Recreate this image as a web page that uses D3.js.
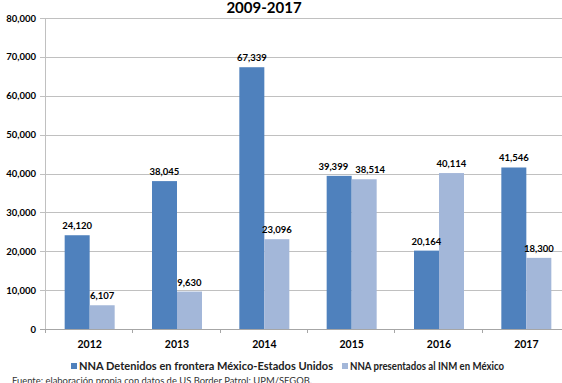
<!DOCTYPE html>
<html>
<head>
<meta charset="utf-8">
<script src="https://cdn.jsdelivr.net/npm/d3@7"></script>
<style>
  body { margin: 0; background: #fff; }
  text { font-family: Lato, "Open Sans", sans-serif; }
</style>
</head>
<body>
<div id="chart"></div>
<script>
// datos
var years = ["2012", "2013", "2014", "2015", "2016", "2017"];
var detenidos = [24120, 38045, 67339, 39399, 20164, 41546];
var presentados = [6107, 9630, 23096, 38514, 40114, 18300];
var seriesNames = ["NNA Detenidos en frontera México-Estados Unidos", "NNA presentados al INM en México"];
var yTicks = [0, 10000, 20000, 30000, 40000, 50000, 60000, 70000, 80000];
var colors = ["#4f81bd", "#a3b7d9"];

var width = 562, height = 383;

var svg = d3.select("#chart").append("svg")
	.attr("width", width)
	.attr("height", height);

var x0 = d3.scaleBand()
	.domain(years)
	.range([45, 569])
	.padding(0);

var bw = x0.bandwidth();
var x1 = d3.scaleBand()
	.domain([0, 1])
	.range([bw / 2 - 24, bw / 2 + 26]);

var y = d3.scaleLinear()
	.domain([0, 80000])
	.range([329, 18]);

var fmt = d3.format(",");

// lineas de cuadricula
svg.append("g").selectAll("line")
	.data(yTicks)
	.enter().append("line")
	.attr("x1", 40)
	.attr("x2", width)
	.attr("y1", function(d) { return Math.round(y(d)) + 0.5; })
	.attr("y2", function(d) { return Math.round(y(d)) + 0.5; })
	.attr("stroke", function(d) { return d === 0 ? "#a6a6a6" : "#c0c0c0"; })
	.attr("stroke-width", 1);

// eje y
svg.append("line")
	.attr("x1", 45.5).attr("x2", 45.5)
	.attr("y1", y(80000)).attr("y2", y(0))
	.attr("stroke", "#c0c0c0");

svg.append("g").selectAll("text")
	.data(yTicks)
	.enter().append("text")
	.attr("x", 36)
	.attr("y", function(d) { return y(d) + 3.5; })
	.attr("text-anchor", "end")
	.attr("font-size", "9.5px")
	.attr("font-weight", "bold")
	.attr("fill", "#000")
	.text(function(d) { return fmt(d); });

// marcas del eje x
svg.append("g").selectAll("line")
	.data(years)
	.enter().append("line")
	.attr("x1", function(d) { return Math.round(x0(d)) + 0.5; })
	.attr("x2", function(d) { return Math.round(x0(d)) + 0.5; })
	.attr("y1", y(0))
	.attr("y2", y(0) + 4)
	.attr("stroke", "#a6a6a6");

svg.append("g").selectAll("text")
	.data(years)
	.enter().append("text")
	.attr("x", function(d) { return x0(d) + x1(0) + x1.bandwidth(); })
	.attr("y", 348)
	.attr("text-anchor", "middle")
	.attr("font-size", "10.5px")
	.attr("font-weight", "bold")
	.text(function(d) { return d; });

// barras
var rows = years.map(function(yr, i) {
	return { year: yr, values: [detenidos[i], presentados[i]] };
});

var groups = svg.append("g").selectAll("g")
	.data(rows)
	.enter().append("g")
	.attr("transform", function(d) { return "translate(" + x0(d.year) + ",0)"; });

groups.selectAll("rect")
	.data(function(d) { return d.values.map(function(v, k) { return { k: k, v: v }; }); })
	.enter().append("rect")
	.attr("x", function(d) { return x1(d.k); })
	.attr("width", x1.bandwidth())
	.attr("y", function(d) { return y(d.v); })
	.attr("height", function(d) { return y(0) - y(d.v); })
	.attr("fill", function(d) { return colors[d.k]; });

groups.each(function(d) {
	var g = d3.select(this);
	var labels = d.values.map(function(v, k) {
		return g.append("text")
			.attr("x", x1(k) + x1.bandwidth() / 2)
			.attr("y", y(v) - 6)
			.attr("text-anchor", "middle")
			.attr("font-size", "9.5px")
			.attr("font-weight", "bold")
			.text(fmt(v));
	});
	// separar etiquetas si se enciman
	var y0 = y(d.values[0]), y1 = y(d.values[1]);
	if (Math.abs(y0 - y1) < 11) {
		var w0 = labels[0].node().getComputedTextLength();
		var w1 = labels[1].node().getComputedTextLength();
		var need = (w0 + w1) / 2 + 5 - x1.bandwidth();
		if (need > 0) {
			labels[0].attr("x", x1(0) + x1.bandwidth() / 2 - need / 2 - 1);
			labels[1].attr("x", x1(1) + x1.bandwidth() / 2 + need / 2 + 1);
		}
	}
});

// titulo
svg.append("text")
	.attr("x", 264)
	.attr("y", 13)
	.attr("text-anchor", "middle")
	.attr("font-size", "15px")
	.attr("font-weight", "bold")
	.text("2009-2017");

// leyenda
var legendX = [71, 342];
var legendW = [254, 154];
var legend = svg.append("g").selectAll("g")
	.data(seriesNames)
	.enter().append("g")
	.attr("transform", function(d, i) { return "translate(" + legendX[i] + ",363)"; });

legend.append("rect")
	.attr("width", 6)
	.attr("height", 6)
	.attr("fill", function(d, i) { return colors[i]; });

legend.append("text")
	.attr("x", 8)
	.attr("y", 6.5)
	.attr("font-size", "10.5px")
	.attr("font-weight", "bold")
	.attr("fill", "#222")
	.attr("textLength", function(d, i) { return legendW[i]; })
	.attr("lengthAdjust", "spacingAndGlyphs")
	.text(function(d) { return d; });

// fuente
svg.append("text")
	.attr("x", 12)
	.attr("y", 384)
	.attr("font-size", "10px")
	.attr("fill", "#333")
	.attr("textLength", 300)
	.attr("lengthAdjust", "spacingAndGlyphs")
	.text("Fuente: elaboración propia con datos de US Border Patrol; UPM/SEGOB.");
</script>
</body>
</html>
